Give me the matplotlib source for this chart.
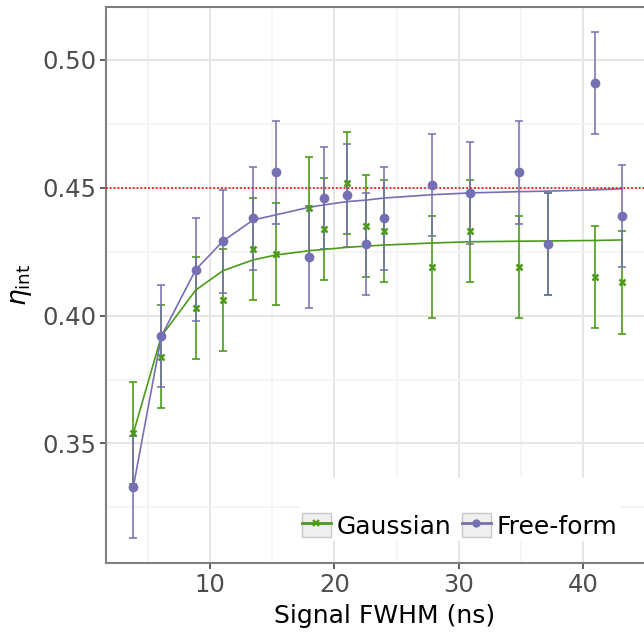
import matplotlib
matplotlib.use("Agg")
import matplotlib.pyplot as plt
from matplotlib.lines import Line2D
from matplotlib.patches import Rectangle
from matplotlib.legend_handler import HandlerTuple
from matplotlib.ticker import MultipleLocator

# ---- data ----
fwhm = [3.83, 6.09, 8.85, 11.05, 13.46, 15.28, 17.99, 19.15, 21.02, 22.55,
        24.0, 27.86, 30.92, 34.86, 37.14, 40.95, 43.12]
gauss = [0.354, 0.384, 0.403, 0.406, 0.426, 0.424, 0.442, 0.434, 0.452, 0.435,
         0.433, 0.419, 0.433, 0.419, 0.428, 0.415, 0.413]
gauss_err = [0.02] * len(fwhm)
free = [0.333, 0.392, 0.418, 0.429, 0.438, 0.456, 0.423, 0.446, 0.447, 0.428,
        0.438, 0.451, 0.448, 0.456, 0.428, 0.491, 0.439]
free_err = [0.02] * len(fwhm)
gauss_fit = [0.354, 0.392, 0.410, 0.4176, 0.4218, 0.4237, 0.4254, 0.4259, 0.4267,
             0.4272, 0.4276, 0.4284, 0.4289, 0.4291, 0.4292, 0.4294, 0.4296]
free_fit = [0.333, 0.392, 0.418, 0.4292, 0.4374, 0.4394, 0.4424, 0.4433, 0.4446,
            0.4452, 0.446, 0.4473, 0.448, 0.4485, 0.4487, 0.4492, 0.4496]
target = 0.45
labels = ["Gaussian", "Free-form"]

GREEN = "#4b9b18"
PURPLE = "#7570b3"

fig = plt.figure(figsize=(6.44, 6.35), dpi=100)
W, H = 644, 635
left_px, right_px, top_px, bottom_px = 106, 664, 6.7, 563.3
ax = fig.add_axes([left_px / W, 1 - bottom_px / H,
                   (right_px - left_px) / W, (bottom_px - top_px) / H])
ax.set_xlim(1.633, 46.5)
ax.set_ylim(0.3031, 0.52085)

ax.xaxis.set_major_locator(MultipleLocator(10))
ax.xaxis.set_minor_locator(MultipleLocator(5))
ax.yaxis.set_major_locator(MultipleLocator(0.05))
ax.yaxis.set_minor_locator(MultipleLocator(0.025))
ax.yaxis.set_major_formatter(matplotlib.ticker.FormatStrFormatter("%.2f"))

ax.grid(which="major", color="#e6e6e6", lw=1.4, zorder=0)
ax.grid(which="minor", color="#f3f3f3", lw=1.1, zorder=0)
ax.set_axisbelow(True)

for s in ["left", "bottom", "top"]:
    ax.spines[s].set_color("#808080")
    ax.spines[s].set_linewidth(1.5)
ax.spines["right"].set_visible(False)
ax.tick_params(which="major", length=4, width=1.1, color="#333333",
               labelsize=17.5, labelcolor="#4d4d4d", pad=3)
ax.tick_params(which="minor", length=0)

# error bars
ax.errorbar(fwhm, gauss, yerr=gauss_err, fmt="none", ecolor=GREEN, elinewidth=1.4,
            capsize=3, capthick=1.4, alpha=0.85, zorder=2)
ax.errorbar(fwhm, free, yerr=free_err, fmt="none", ecolor=PURPLE, elinewidth=1.4,
            capsize=3, capthick=1.4, alpha=0.8, zorder=2)
# fit lines
ax.plot(fwhm, gauss_fit, color=GREEN, lw=1.2, zorder=3)
ax.plot(fwhm, free_fit, color=PURPLE, lw=1.2, zorder=3)
# markers
ax.plot(fwhm, gauss, ls="none", marker="x", ms=5, mew=1.8, color=GREEN, zorder=4)
ax.plot(fwhm, free, ls="none", marker="o", ms=6, color=PURPLE, zorder=5)

ax.axhline(target, color="#ff0000", lw=1.2, ls=(0, (1, 1.3)), zorder=3)

ax.set_xlabel("Signal FWHM (ns)", fontsize=18, labelpad=5)
ax.set_ylabel(r"$\eta_{\mathrm{int}}$", fontsize=19, labelpad=6)

# legend background
bg = Rectangle((300 / W, 1 - 541 / H), 319 / W, 63 / H, transform=fig.transFigure,
               facecolor="white", edgecolor="none", zorder=1)
ax.add_patch(bg)
bg.set_clip_on(False)

def key(color, marker, ms, mew):
    r = Rectangle((0, 0), 1, 1, facecolor="#f0f0f0", edgecolor="#c8c8c8", lw=1)
    l = Line2D([], [], color=color, lw=2, marker=marker, ms=ms, mew=mew)
    return (r, l)

handles = [key(GREEN, "x", 4, 1.6), key(PURPLE, "o", 5, 1)]
leg = fig.legend(handles, labels, handler_map={tuple: HandlerTuple(ndivide=1, pad=0)},
                 loc="lower right", bbox_to_anchor=(620 / W, 1 - 541 / H),
                 ncol=2, frameon=False, fontsize=18, handlelength=1.15,
                 handleheight=1.15, handletextpad=0.25, columnspacing=0.4,
                 borderpad=0.1, borderaxespad=0)

fig.savefig("out.png", dpi=100)
